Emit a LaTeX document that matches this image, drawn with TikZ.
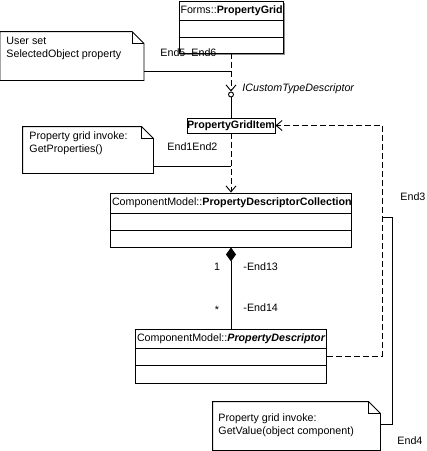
\documentclass[tikz,border=0pt]{standalone}
\usepackage{fontspec}
\setmainfont{Liberation Sans}
\usepackage{tikz}
\usetikzlibrary{arrows.meta, shadows}
\tikzset{%
	every node/.style={
		font=\fontsize{10.7pt}{12.8pt}\selectfont
	},
	note/.style={
		draw=none,
		inner sep=0pt
	},
	notetext/.style={
		anchor=west,
		align=left,
		inner sep=0pt
	},
}

\begin{document}
\begin{tikzpicture}[x=1pt, y=-1pt, line width=0.9pt, >={Straight Barb[length=6pt,width=10pt]}]
	\tikzstyle{classbox}=[draw, fill=white, inner sep=0pt]
	\tikzstyle{head}=[anchor=west, inner sep=1.5pt]
	\tikzstyle{dep}=[->, dash pattern=on 6pt off 3pt]
	\tikzstyle{tag}=[anchor=west, inner sep=0pt]
	
	\useasboundingbox (0,0) rectangle (427,451);
	
	% classes
	\node[classbox, minimum width=104pt, minimum height=52pt,
		drop shadow={shadow xshift=1.5pt, shadow yshift=-1.5pt, fill=black!45, opacity=1}] (grid) at (231,27) {};
	\node[head] (gridname) at ([yshift=-10pt]grid.north west) {Forms::\textbf{PropertyGrid}};
	\draw ([yshift=-20pt]grid.north west) -- ([yshift=-20pt]grid.north east);
	\draw ([yshift=-37pt]grid.north west) -- ([yshift=-37pt]grid.north east);
	
	\node[draw, circle, minimum size=5pt, inner sep=0pt] (lolly) at (231,94.5) {};
	\node[tag] (iface) at (242,89) {\textit{ICustomTypeDescriptor}};
	
	\node[classbox, minimum width=88pt, minimum height=15pt] (item) at (231,125.5) {\textbf{PropertyGridItem}};
	
	\node[classbox, minimum width=241pt, minimum height=54pt] (coll) at (231,220) {};
	\node[head] (collname) at ([yshift=-10pt]coll.north west) {ComponentModel::\textbf{PropertyDescriptorCollection}};
	\draw ([yshift=-20.5pt]coll.north west) -- ([yshift=-20.5pt]coll.north east);
	\draw ([yshift=-37.5pt]coll.north west) -- ([yshift=-37.5pt]coll.north east);
	
	\node[classbox, minimum width=191pt, minimum height=54pt] (desc) at (231,356) {};
	\node[head] (descname) at ([yshift=-10pt]desc.north west) {ComponentModel::\textbf{\textit{PropertyDescriptor}}};
	\draw ([yshift=-20pt]desc.north west) -- ([yshift=-20pt]desc.north east);
	\draw ([yshift=-37pt]desc.north west) -- ([yshift=-37pt]desc.north east);
	
	% notes
	\node[note, minimum width=143pt, minimum height=48pt] (n1) at (72,56) {};
	\draw (n1.north west) -- ([xshift=-12pt]n1.north east) -- ([yshift=-12pt]n1.north east) -- (n1.south east) -- (n1.south west) -- cycle;
	\draw ([xshift=-12pt]n1.north east) |- ([yshift=-12pt]n1.north east);
	\node[notetext] (n1text) at (6,48.5) {User set\\SelectedObject property};
	
	\node[note, minimum width=130pt, minimum height=46pt] (n2) at (88,150) {};
	\draw (n2.north west) -- ([xshift=-12pt]n2.north east) -- ([yshift=-12pt]n2.north east) -- (n2.south east) -- (n2.south west) -- cycle;
	\draw ([xshift=-12pt]n2.north east) |- ([yshift=-12pt]n2.north east);
	\node[notetext] (n2text) at (29,143) {Property grid invoke:\\GetProperties()};
	
	\node[note, minimum width=167pt, minimum height=48pt] (n3) at (296.5,426) {};
	\draw (n3.north west) -- ([xshift=-12pt]n3.north east) -- ([yshift=-12pt]n3.north east) -- (n3.south east) -- (n3.south west) -- cycle;
	\draw ([xshift=-12pt]n3.north east) |- ([yshift=-12pt]n3.north east);
	\node[notetext] (n3text) at (218,425) {Property grid invoke:\\GetValue(object component)};
	
	% connectors
	\draw[dep] (grid) -- (lolly);
	\draw (lolly) -- (item);
	\draw[dep] (item) -- (coll);
	\draw[-{Diamond[length=14pt,width=10pt]}] (desc) -- (coll);
	
	\coordinate (c3) at (382,125.5);
	\draw[dep] (desc.east) -| (c3) -- (item.east);
	
	\coordinate (k1) at (231,71);
	\draw (n1.east |- k1) -- (k1);
	\coordinate (k2) at (231,166);
	\draw (n2.east |- k2) -- (k2);
	\coordinate (k3) at (382,217);
	\coordinate (k3b) at (392,424);
	\draw (k3) -| (k3b) -- (n3.east |- k3b);
	
	% end labels
	\node[tag] (end5) at (160,53) {End5};
	\node[tag] (end6) at (191,53) {End6};
	\node[tag] (end1) at (167,147) {End1};
	\node[tag] (end2) at (192,147) {End2};
	\node[tag] (end3) at (400,197) {End3};
	\node[tag] (end4) at (397,441) {End4};
	\node (m1) at (217,267) {1};
	\node[tag] (end13) at (243,267) {-End13};
	\node (m2) at (217,310) {*};
	\node[tag] (end14) at (243,308) {-End14};
\end{tikzpicture}
\end{document}
